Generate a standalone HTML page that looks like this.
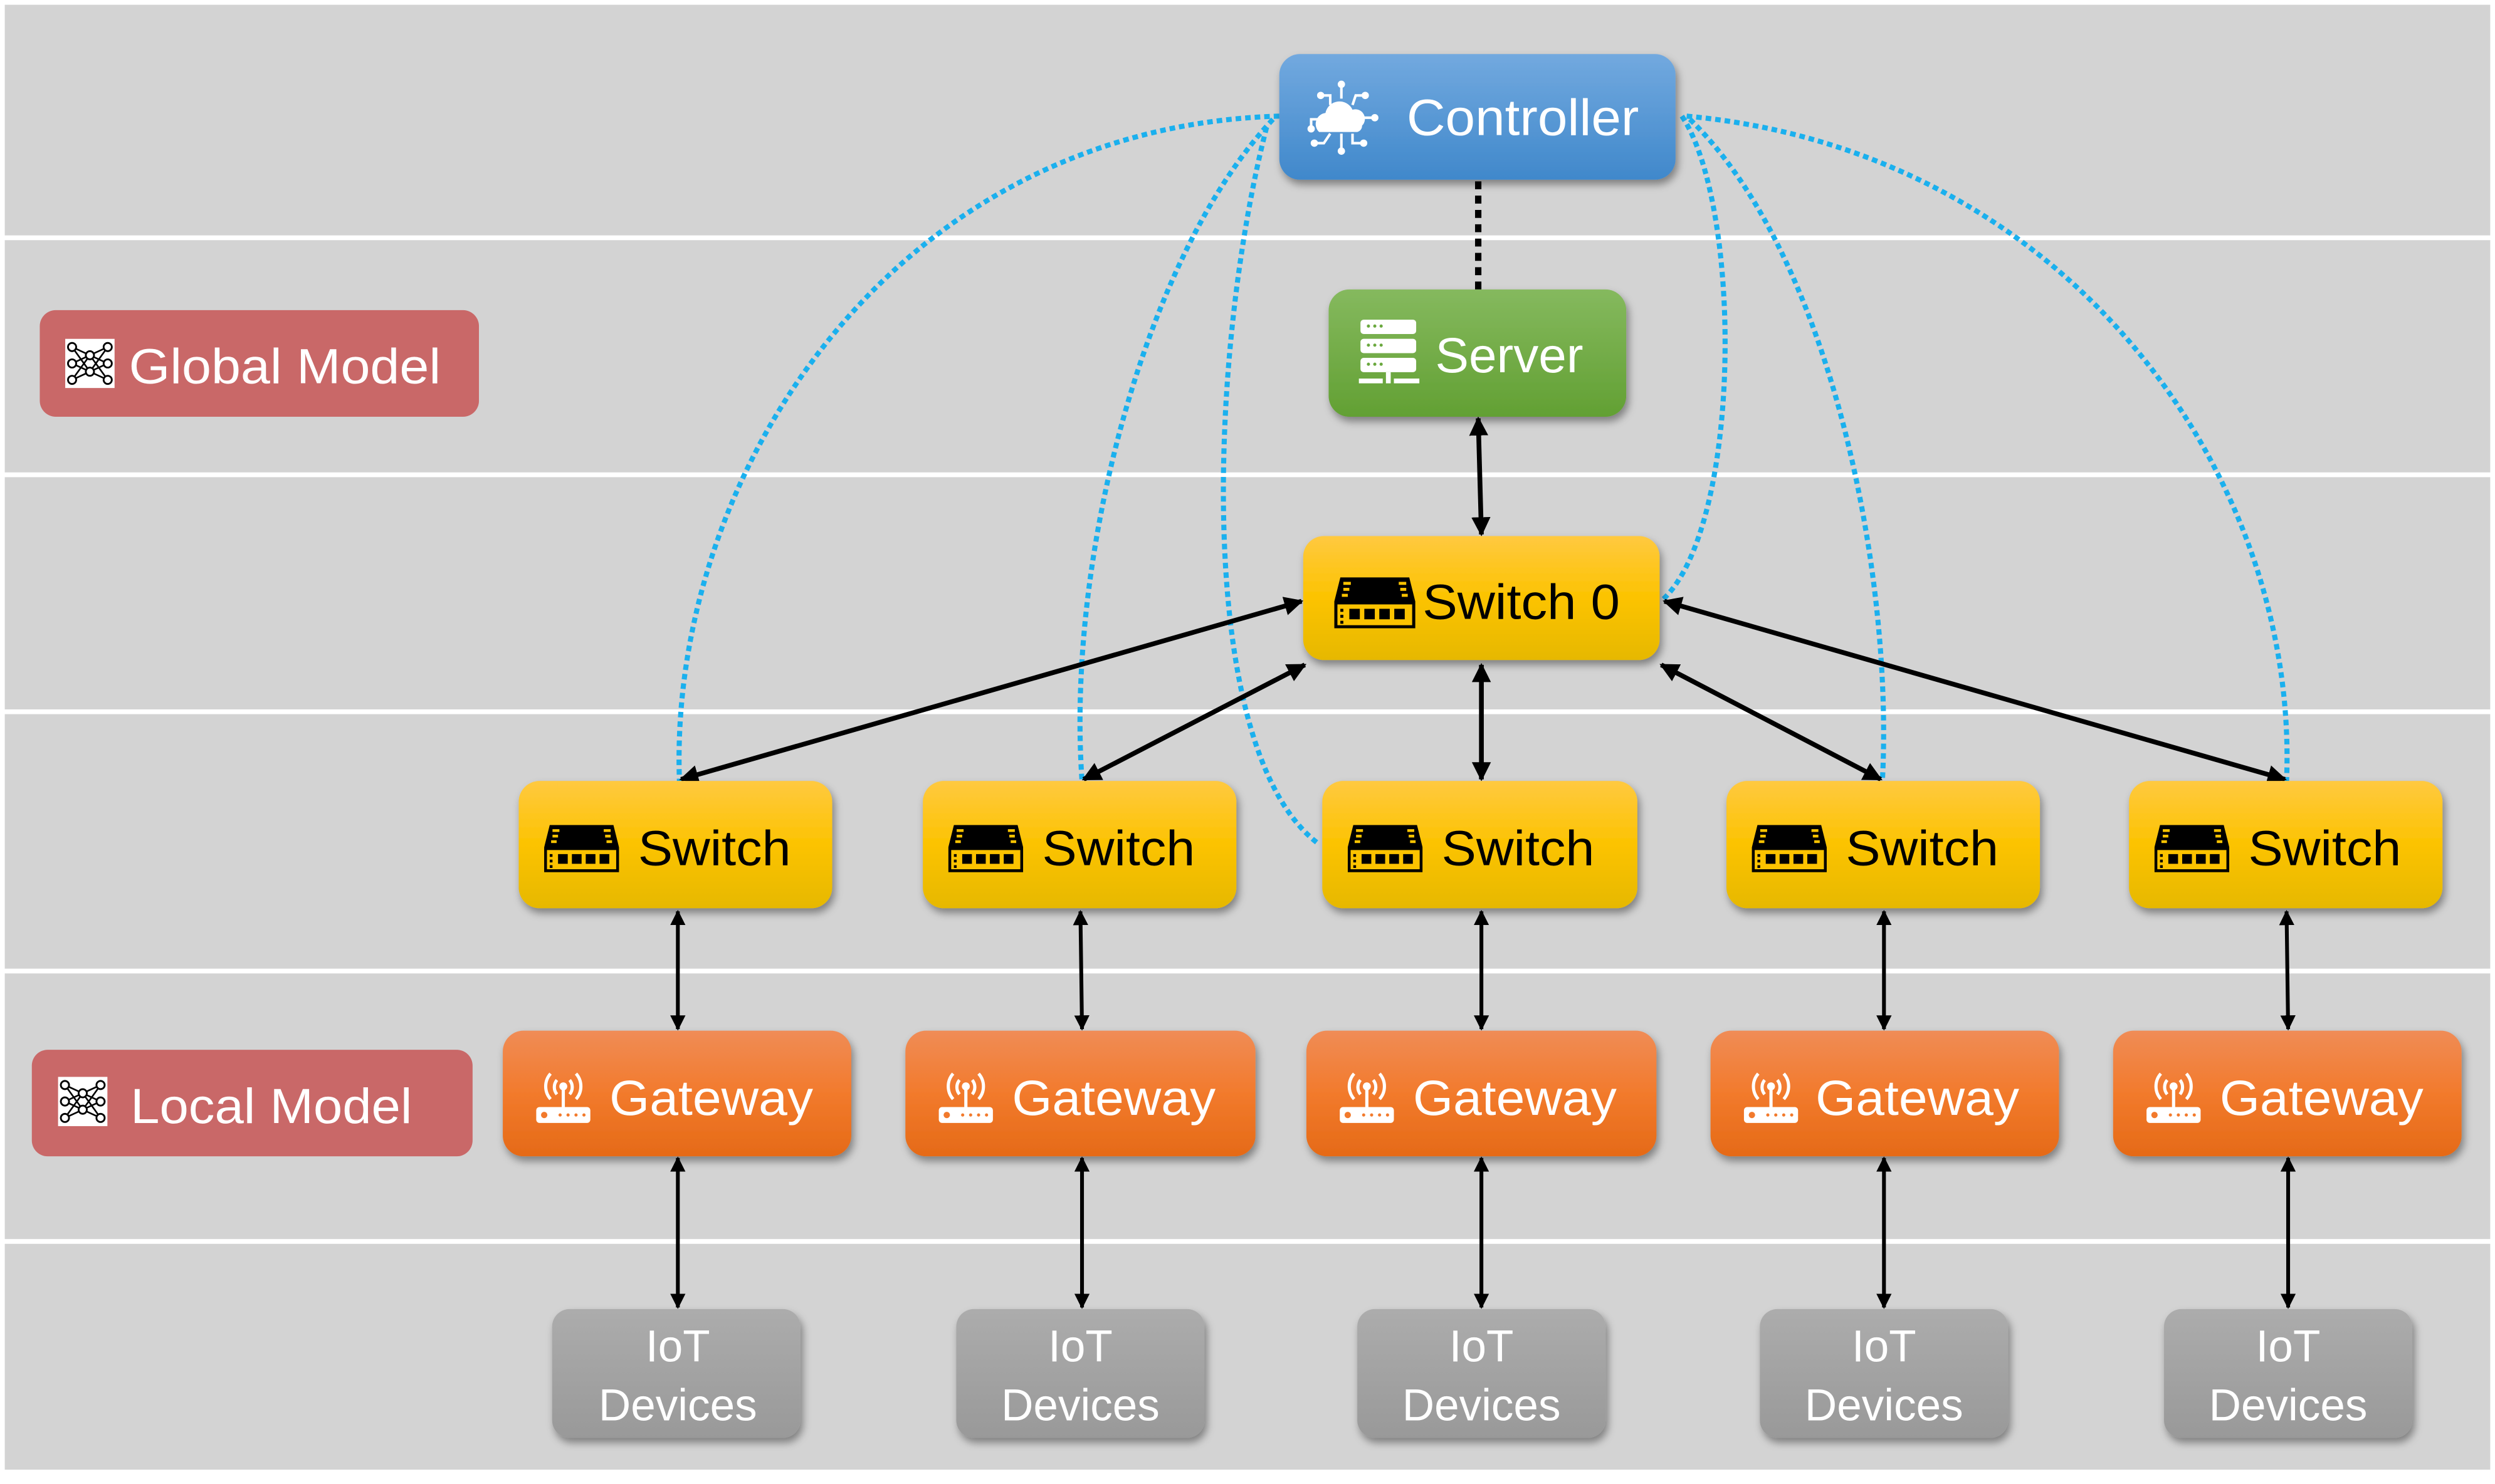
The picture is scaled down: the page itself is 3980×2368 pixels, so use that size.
<!DOCTYPE html>
<html><head><meta charset="utf-8"><style>html,body{margin:0;padding:0;background:#fff}svg{display:block}</style></head><body>
<svg width="3980" height="2368" viewBox="0 0 1568 933" preserveAspectRatio="none" xmlns="http://www.w3.org/2000/svg" font-family="Liberation Sans, DejaVu Sans, sans-serif">
<defs>
<linearGradient id="gB" x1="0" y1="0" x2="0" y2="1"><stop offset="0" stop-color="#72a9df"/><stop offset="1" stop-color="#4088cb"/></linearGradient>
<linearGradient id="gG" x1="0" y1="0" x2="0" y2="1"><stop offset="0" stop-color="#85b95e"/><stop offset="1" stop-color="#62a033"/></linearGradient>
<linearGradient id="gY" x1="0" y1="0" x2="0" y2="1"><stop offset="0" stop-color="#ffc940"/><stop offset=".5" stop-color="#fcc300"/><stop offset="1" stop-color="#e6b800"/></linearGradient>
<linearGradient id="gO" x1="0" y1="0" x2="0" y2="1"><stop offset="0" stop-color="#f08c56"/><stop offset=".5" stop-color="#f27a2c"/><stop offset="1" stop-color="#e56a17"/></linearGradient>
<linearGradient id="gI" x1="0" y1="0" x2="0" y2="1"><stop offset="0" stop-color="#acacac"/><stop offset="1" stop-color="#999"/></linearGradient>
<filter id="sh" x="-10%" y="-10%" width="125%" height="135%"><feDropShadow dx="1.5" dy="3" stdDeviation="2.5" flood-color="#000" flood-opacity=".4"/></filter>
<marker id="ah" viewBox="0 0 10 10" refX="9" refY="5" markerWidth="4" markerHeight="4" orient="auto-start-reverse"><path d="M0,0 L10,5 L0,10 z" fill="#000"/></marker>
<symbol id="sw" viewBox="0 0 54 34"><path d="M4,0 H50 L54,16 V34 H0 V16 Z" fill="#000"/><rect x="2" y="18" width="50" height="14" fill="#fcc300"/><g fill="#fcc300"><rect x="6" y="3" width="5" height="2"/><rect x="6" y="7" width="4" height="2"/><rect x="5" y="11" width="4" height="2"/><rect x="43" y="3" width="5" height="2"/><rect x="44" y="7" width="4" height="2"/><rect x="45" y="11" width="4" height="2"/></g><g fill="#000"><rect x="10" y="21" width="7" height="7"/><rect x="20" y="21" width="7" height="7"/><rect x="30" y="21" width="7" height="7"/><rect x="40" y="21" width="7" height="7"/><rect x="4" y="21" width="2" height="2"/><rect x="4" y="25" width="2" height="2"/><rect x="4" y="29" width="2" height="2"/></g><rect x="1" y="17" width="52" height="16" fill="none" stroke="#000" stroke-width="2"/></symbol>
<symbol id="gw" viewBox="0 0 36 36"><g fill="none" stroke="#fff" stroke-width="2"><path d="M10,4 A12,12 0 0 0 10,20"/><path d="M26,4 A12,12 0 0 1 26,20"/><path d="M14,8 A7,7 0 0 0 14,17"/><path d="M22,8 A7,7 0 0 1 22,17"/></g><circle cx="18" cy="12" r="2.5" fill="#fff"/><rect x="17" y="12" width="2" height="13" fill="#fff"/><rect x="1" y="25" width="34" height="10" rx="2" fill="#fff"/><g fill="#f27a2c"><circle cx="6" cy="30" r="2"/><circle cx="16" cy="30" r="1"/><circle cx="21" cy="30" r="1"/><circle cx="26" cy="30" r="1"/><circle cx="31" cy="30" r="1"/></g></symbol>
<symbol id="nn" viewBox="0 0 36 36"><rect width="36" height="36" fill="#fff"/><g stroke="#000" stroke-width="1.2" fill="none"><path d="M5,6 L18,12 L31,6 M5,6 L18,24 M5,18 L18,12 L31,18 M5,18 L18,24 L31,30 M5,30 L18,24 M5,30 L18,12 L31,30 M31,6 L18,24 M31,18 L18,24"/></g><g fill="#fff" stroke="#000" stroke-width="1.3"><circle cx="5" cy="6" r="3"/><circle cx="5" cy="18" r="3"/><circle cx="5" cy="30" r="3"/><circle cx="18" cy="12" r="3"/><circle cx="18" cy="24" r="3"/><circle cx="31" cy="6" r="3"/><circle cx="31" cy="18" r="3"/><circle cx="31" cy="30" r="3"/></g></symbol>
</defs>
<rect width="1568" height="933" fill="#fff"/>
<rect x="3" y="3" width="1562" height="921" fill="#d3d3d3"/>
<g fill="#fff"><rect x="0" y="148" width="1568" height="3"/><rect x="0" y="297" width="1568" height="3"/><rect x="0" y="446" width="1568" height="3"/><rect x="0" y="609" width="1568" height="3"/><rect x="0" y="779" width="1568" height="3"/></g>

<g fill="none" stroke="#1ab0ee" stroke-width="3.2" stroke-dasharray="3.5,2.5">
<path d="M804,73 C560,80 420,300 427,491"/>
<path d="M800,75 C720,160 670,350 680,491"/>
<path d="M796,80 C760,220 750,470 828,530"/>
<path d="M1057,73 C1095,130 1095,330 1045,377"/>
<path d="M1062,75 C1150,160 1190,360 1183,491"/>
<path d="M1060,73 C1300,95 1445,300 1437,491"/>
</g>
<line x1="929" y1="114" x2="929" y2="182" stroke="#000" stroke-width="4" stroke-dasharray="5,4"/>

<g stroke="#000" stroke-width="3" fill="none" marker-start="url(#ah)" marker-end="url(#ah)">
<line x1="818" y1="378" x2="428" y2="490"/>
<line x1="820" y1="418" x2="681" y2="490"/>
<line x1="931" y1="418" x2="931" y2="490"/>
<line x1="1044" y1="418" x2="1182" y2="490"/>
<line x1="1046" y1="378" x2="1436" y2="490"/>
<line x1="929" y1="263" x2="931" y2="336"/>
</g>
<g stroke="#000" stroke-width="2.4" fill="none" marker-start="url(#ah)" marker-end="url(#ah)">
<line x1="426" y1="573" x2="426" y2="647"/><line x1="679" y1="573" x2="680" y2="647"/><line x1="931" y1="573" x2="931" y2="647"/><line x1="1184" y1="573" x2="1184" y2="647"/><line x1="1437" y1="573" x2="1438" y2="647"/>
<line x1="426" y1="728" x2="426" y2="822"/><line x1="680" y1="728" x2="680" y2="822"/><line x1="931" y1="728" x2="931" y2="822"/><line x1="1184" y1="728" x2="1184" y2="822"/><line x1="1438" y1="728" x2="1438" y2="822"/>
</g>

<g filter="url(#sh)">
<rect x="804" y="34" width="249" height="79" rx="13" fill="url(#gB)"/>
<rect x="835" y="182" width="187" height="80" rx="13" fill="url(#gG)"/>
<rect x="819" y="337" width="224" height="78" rx="13" fill="url(#gY)"/>
<rect x="326" y="491" width="197" height="80" rx="13" fill="url(#gY)"/>
<rect x="580" y="491" width="197" height="80" rx="13" fill="url(#gY)"/>
<rect x="831" y="491" width="198" height="80" rx="13" fill="url(#gY)"/>
<rect x="1085" y="491" width="197" height="80" rx="13" fill="url(#gY)"/>
<rect x="1338" y="491" width="197" height="80" rx="13" fill="url(#gY)"/>
<rect x="316" y="648" width="219" height="79" rx="13" fill="url(#gO)"/>
<rect x="569" y="648" width="220" height="79" rx="13" fill="url(#gO)"/>
<rect x="821" y="648" width="220" height="79" rx="13" fill="url(#gO)"/>
<rect x="1075" y="648" width="219" height="79" rx="13" fill="url(#gO)"/>
<rect x="1328" y="648" width="219" height="79" rx="13" fill="url(#gO)"/>
<rect x="347" y="823" width="156" height="81" rx="11" fill="url(#gI)"/>
<rect x="601" y="823" width="156" height="81" rx="11" fill="url(#gI)"/>
<rect x="853" y="823" width="156" height="81" rx="11" fill="url(#gI)"/>
<rect x="1106" y="823" width="156" height="81" rx="11" fill="url(#gI)"/>
<rect x="1360" y="823" width="156" height="81" rx="11" fill="url(#gI)"/>
</g>
<rect x="25" y="195" width="276" height="67" rx="10" fill="#c96868"/>
<rect x="20" y="660" width="277" height="67" rx="10" fill="#c96868"/>
<use href="#nn" x="39" y="213" width="35" height="31"/>
<use href="#nn" x="34" y="677" width="36" height="31"/>

<g fill="#fff" stroke="#fff">
<path d="M829,83 a7,7 0 0 1 4,-12 a9,9 0 0 1 17,-2 a6,6 0 0 1 6,10 a4,4 0 0 1 -3,4 z" stroke="none"/>
<g fill="none" stroke-width="1.6"><path d="M843,62 V54"/><path d="M836,66 V60 H830"/><path d="M850,66 L852,60 H858"/><path d="M856,74 H864"/><path d="M829,75 H824 V80"/><path d="M836,84 L832,90 H826"/><path d="M843,84 V94"/><path d="M850,84 V90 H856"/></g>
<g stroke="none"><circle cx="843" cy="53" r="2.3"/><circle cx="830" cy="60" r="2.3"/><circle cx="858" cy="60" r="2.3"/><circle cx="864" cy="74" r="2.3"/><circle cx="824" cy="81" r="2.3"/><circle cx="826" cy="90" r="2.3"/><circle cx="843" cy="95" r="2.3"/><circle cx="857" cy="90" r="2.3"/></g>
</g>
<g fill="#fff"><rect x="855" y="201" width="35" height="9" rx="2"/><rect x="855" y="213" width="35" height="9" rx="2"/><rect x="855" y="225" width="35" height="9" rx="2"/><rect x="871" y="234" width="3" height="7"/><rect x="854" y="238" width="15" height="3"/><rect x="876" y="238" width="16" height="3"/></g>
<g fill="#6aa83e"><circle cx="860" cy="205" r="1"/><circle cx="864" cy="205" r="1"/><circle cx="868" cy="205" r="1"/><circle cx="860" cy="217" r="1"/><circle cx="864" cy="217" r="1"/><circle cx="868" cy="217" r="1"/><circle cx="860" cy="229" r="1"/><circle cx="864" cy="229" r="1"/><circle cx="868" cy="229" r="1"/></g>

<use href="#sw" x="837" y="363" width="54" height="32"/>
<use href="#sw" x="342" y="517" width="47" height="33"/>
<use href="#sw" x="596" y="517" width="47" height="33"/>
<use href="#sw" x="847" y="517" width="47" height="33"/>
<use href="#sw" x="1101" y="517" width="47" height="33"/>
<use href="#sw" x="1354" y="517" width="47" height="33"/>
<use href="#gw" x="336" y="671" width="36" height="36"/>
<use href="#gw" x="589" y="671" width="36" height="36"/>
<use href="#gw" x="841" y="671" width="36" height="36"/>
<use href="#gw" x="1095" y="671" width="36" height="36"/>
<use href="#gw" x="1348" y="671" width="36" height="36"/>

<g font-size="31">
<text x="884" y="85" fill="#fff" font-size="32" textLength="146" lengthAdjust="spacingAndGlyphs">Controller</text>
<text x="902" y="234" fill="#fff" textLength="93" lengthAdjust="spacingAndGlyphs">Server</text>
<text x="894" y="389" fill="#000" textLength="124" lengthAdjust="spacingAndGlyphs">Switch 0</text>
<text x="81" y="241" fill="#fff" textLength="196" lengthAdjust="spacingAndGlyphs">Global Model</text>
<text x="82" y="706" fill="#fff" textLength="177" lengthAdjust="spacingAndGlyphs">Local Model</text>
<g fill="#000"><text x="401" y="544" textLength="96" lengthAdjust="spacingAndGlyphs">Switch</text><text x="655" y="544" textLength="96" lengthAdjust="spacingAndGlyphs">Switch</text><text x="906" y="544" textLength="96" lengthAdjust="spacingAndGlyphs">Switch</text><text x="1160" y="544" textLength="96" lengthAdjust="spacingAndGlyphs">Switch</text><text x="1413" y="544" textLength="96" lengthAdjust="spacingAndGlyphs">Switch</text></g>
<g fill="#fff"><text x="383" y="701" textLength="128" lengthAdjust="spacingAndGlyphs">Gateway</text><text x="636" y="701" textLength="128" lengthAdjust="spacingAndGlyphs">Gateway</text><text x="888" y="701" textLength="128" lengthAdjust="spacingAndGlyphs">Gateway</text><text x="1141" y="701" textLength="128" lengthAdjust="spacingAndGlyphs">Gateway</text><text x="1395" y="701" textLength="128" lengthAdjust="spacingAndGlyphs">Gateway</text></g>
</g>
<g font-size="28" fill="#fff" text-anchor="middle">
<text x="426" y="856">IoT</text><text x="426" y="893">Devices</text>
<text x="679" y="856">IoT</text><text x="679" y="893">Devices</text>
<text x="931" y="856">IoT</text><text x="931" y="893">Devices</text>
<text x="1184" y="856">IoT</text><text x="1184" y="893">Devices</text>
<text x="1438" y="856">IoT</text><text x="1438" y="893">Devices</text>
</g>
</svg>
</body></html>
